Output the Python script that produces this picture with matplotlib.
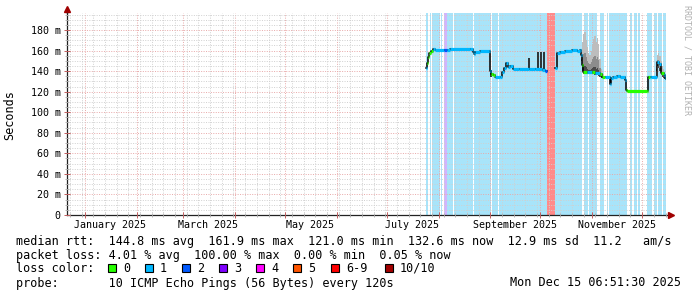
import numpy as np
import pandas as pd
import matplotlib
matplotlib.use('Agg')
import matplotlib.pyplot as plt
import matplotlib.dates as mdates
from matplotlib.ticker import MultipleLocator, FuncFormatter, NullFormatter
from matplotlib.patches import Rectangle

# --------- data (median rtt in ms, loss class index) ---------
rtt_times = ['2025-07-24 05:00', '2025-07-25 00:00', '2025-07-25 12:00', '2025-07-26 12:00',
             '2025-07-27 12:00', '2025-07-28 12:00', '2025-07-30 00:00', '2025-08-04 00:00',
             '2025-08-05 19:00', '2025-08-07 22:00', '2025-08-20 00:00', '2025-08-21 10:00',
             '2025-08-22 00:00', '2025-08-23 00:00', '2025-08-26 00:00', '2025-08-31 00:00',
             '2025-09-01 00:00', '2025-09-01 12:00', '2025-09-02 12:00', '2025-09-03 12:00',
             '2025-09-07 00:00', '2025-09-08 00:00', '2025-09-09 00:00', '2025-09-10 10:00',
             '2025-09-11 12:00', '2025-09-13 00:00', '2025-09-14 12:00', '2025-09-18 00:00',
             '2025-09-24 00:00', '2025-09-28 00:00', '2025-10-02 00:00', '2025-10-04 00:00',
             '2025-10-04 19:00', '2025-10-09 19:00', '2025-10-10 19:00', '2025-10-12 19:00',
             '2025-10-16 00:00', '2025-10-20 00:00', '2025-10-23 00:00', '2025-10-24 19:00',
             '2025-10-25 05:00', '2025-10-26 00:00', '2025-10-26 14:00', '2025-10-29 00:00',
             '2025-11-01 00:00', '2025-11-03 00:00', '2025-11-05 19:00', '2025-11-07 00:00',
             '2025-11-09 00:00', '2025-11-12 00:00', '2025-11-12 12:00', '2025-11-13 14:00',
             '2025-11-16 00:00', '2025-11-18 00:00', '2025-11-20 19:00', '2025-11-21 12:00',
             '2025-11-22 00:00', '2025-12-04 00:00', '2025-12-04 10:00', '2025-12-05 12:00',
             '2025-12-06 12:00', '2025-12-09 19:00', '2025-12-10 19:00', '2025-12-12 10:00',
             '2025-12-13 19:00', '2025-12-14 19:00', '2025-12-15 06:51']
rtt_ms = [142.7, 148.0, 154.0, 158.0, 159.6, 161.5, 160.5, 160.5,
          160.5, 161.5, 161.5, 158.5, 156.5, 159.0, 159.6, 159.6,
          140.0, 137.5, 136.0, 134.6, 134.6, 139.5, 143.0, 147.6,
          143.7, 145.0, 142.0, 141.8, 142.0, 141.8, 141.5, 140.5,
          np.nan, 142.7, 157.3, 159.0, 159.5, 160.5, 160.0, 160.5,
          155.7, 146.0, 139.5, 139.0, 139.5, 138.5, 137.5, 134.6,
          134.6, 127.0, 133.5, 134.0, 135.5, 134.0, 131.0, 122.0,
          121.0, 121.0, 134.6, 134.0, 134.6, 149.2, 147.0, 137.8,
          136.0, 133.0, 132.6]
rtt_loss = [1, 0, 0, 0, 0, 1, 1, 2,
            1, 1, 1, 1, 1, 1, 1, 1,
            1, 0, 0, 1, 1, 1, 1, 1,
            1, 1, 1, 1, 1, 1, 1, 2,
            7, 1, 1, 1, 1, 1, 1, 1,
            1, 0, 0, 1, 0, 1, 0, 0,
            1, 1, 1, 1, 1, 1, 1, 0,
            0, 0, 0, 1, 1, 1, 1, 0,
            1, 1, 1]

# packet loss background: edges and loss class of each span (None = no loss)
band_edges = ['2025-07-24 05:00', '2025-07-25 10:00', '2025-07-26 22:00', '2025-07-27 12:00',
              '2025-07-28 02:00', '2025-08-01 14:00', '2025-08-02 05:00', '2025-08-03 02:00',
              '2025-08-04 00:00', '2025-08-05 19:00', '2025-08-09 17:00', '2025-08-10 02:00',
              '2025-08-21 10:00', '2025-08-22 00:00', '2025-09-01 10:00', '2025-09-01 22:00',
              '2025-09-05 07:00', '2025-09-05 22:00', '2025-10-04 19:00', '2025-10-09 19:00',
              '2025-10-26 00:00', '2025-10-26 22:00', '2025-10-29 14:00', '2025-10-30 00:00',
              '2025-11-04 00:00', '2025-11-05 19:00', '2025-11-08 05:00', '2025-11-10 00:00',
              '2025-11-10 14:00', '2025-11-11 05:00', '2025-11-22 00:00', '2025-11-23 19:00',
              '2025-11-25 00:00', '2025-11-25 22:00', '2025-11-27 17:00', '2025-11-28 07:00',
              '2025-11-29 19:00', '2025-12-04 00:00', '2025-12-07 00:00', '2025-12-07 22:00',
              '2025-12-09 17:00', '2025-12-10 07:00', '2025-12-13 00:00', '2025-12-13 14:00',
              '2025-12-15 06:51']
band_loss = [1, None, 1, None, 1, None, 1, None,
             3, 1, None, 1, None, 1, None, 1,
             None, 1, 7, 1, None, 1, None, 1,
             None, 1, None, 1, None, 1, None, 1,
             None, 1, None, 1, None, 1, None, 1,
             None, 1, None, 1]

# dark ping spikes
spike_times = ['2025-09-01 12:00', '2025-09-23 22:00', '2025-09-29 19:00',
               '2025-10-01 05:00', '2025-10-03 10:00']
spike_low = [134.5, 141.5, 141.5, 141.5, 141.5]
spike_high = [141.0, 152.4, 159.0, 159.0, 159.0]

# smoke (spread of individual pings)
smoke_times = ['2025-10-25 12:00', '2025-10-26 06:00', '2025-10-27 00:00', '2025-10-27 18:00',
               '2025-10-28 12:00', '2025-10-29 06:00', '2025-10-30 00:00', '2025-10-30 18:00',
               '2025-10-31 12:00', '2025-11-01 06:00', '2025-11-02 00:00', '2025-11-02 18:00',
               '2025-11-03 12:00', '2025-11-04 06:00', '2025-11-05 00:00', '2025-11-05 18:00',
               '2025-11-06 12:00', '2025-11-07 06:00', '2025-11-08 00:00', '2025-11-20 00:00',
               '2025-12-09 12:00', '2025-12-10 06:00', '2025-12-11 00:00', '2025-12-11 18:00',
               '2025-12-12 12:00', '2025-12-13 06:00', '2025-12-14 00:00', '2025-12-14 18:00']
smoke_high = [158, 168, 176, 178, 170, 163, 158, 156, 160, 166, 171, 174, 168, 172,
              166, 152, 142, 138, 137, np.nan, 149, 156, 158, 155, 150, 145, 142, 138]
smoke_low = [150, 140, 137, 137, 137, 137, 137, 137, 137, 137, 137, 136, 136, 136,
             135, 134, 133, 133, 133, np.nan, 140, 145, 143, 140, 136, 134, 133, 132]

month_labels = ['January 2025', 'March 2025', 'May 2025', 'July 2025',
                'September 2025', 'November 2025']
month_label_times = ['2025-01-16', '2025-03-16', '2025-05-16', '2025-07-16',
                     '2025-09-16', '2025-11-16']

loss_names = ['0', '1', '2', '3', '4', '5', '6-9', '10/10']
loss_colors = ['#26ff00', '#00b8ff', '#0059ff', '#7e00ff', '#ff00ff', '#ff5500', '#ff0000', '#a10000']
band_colors = {1: '#a8e4fa', 3: '#d2b4ff', 7: '#ff8a8a'}

stats_line = 'median rtt:  144.8 ms avg  161.9 ms max  121.0 ms min  132.6 ms now  12.9 ms sd  11.2   am/s'
loss_line = 'packet loss: 4.01 % avg  100.00 % max  0.00 % min  0.05 % now'
probe_line = 'probe:       10 ICMP Echo Pings (56 Bytes) every 120s'
stamp = 'Mon Dec 15 06:51:30 2025'

# --------- figure ---------
W, H = 697, 297
MONO = 'DejaVu Sans Mono'


def fx(px):
    return px / W


def fy(py):
    return 1 - py / H


fig = plt.figure(figsize=(W / 100, H / 100), dpi=100)
ax = fig.add_axes([fx(67), fy(215), (666 - 67) / W, (215 - 13) / H])

t_start = pd.Timestamp('2024-12-21 05:00')
t_end = pd.Timestamp('2025-12-15 06:51:30')
ax.set_xlim(t_start, t_end)
ax.set_ylim(0, 196.5)

# loss background
edges = pd.to_datetime(band_edges)
for i, cls in enumerate(band_loss):
    if cls is None:
        continue
    ax.axvspan(edges[i], edges[i + 1], color=band_colors[cls], lw=0, zorder=1)

# smoke
st = pd.to_datetime(smoke_times)
lo = np.array(smoke_low, dtype=float)
hi = np.array(smoke_high, dtype=float)
ax.fill_between(st, lo, hi, step='mid', color='#bdbdbd', lw=0, zorder=3)
ax.fill_between(st, lo, lo + 0.5 * (hi - lo), step='mid', color='#8c8c8c', lw=0, zorder=3.1)
ax.fill_between(st, lo, lo + 0.2 * (hi - lo), step='mid', color='#4a4a4a', lw=0, zorder=3.2)

# spikes
ax.vlines(pd.to_datetime(spike_times), spike_low, spike_high, color='#151515', lw=1.2, zorder=4)

# median rtt
rt = pd.to_datetime(rtt_times)
rv = np.array(rtt_ms, dtype=float)
ax.plot(rt, rv, drawstyle='steps-post', color='black', lw=1.1, zorder=4.5)
seg_cols = [loss_colors[c] for c in rtt_loss[:-1]]
ax.hlines(rv[:-1], rt[:-1], rt[1:], colors=seg_cols, lw=2.3, zorder=5)

# grid and ticks
ax.xaxis.set_major_locator(mdates.MonthLocator())
ax.xaxis.set_minor_locator(mdates.WeekdayLocator(byweekday=mdates.MO))
ax.xaxis.set_major_formatter(NullFormatter())
ax.yaxis.set_major_locator(MultipleLocator(20))
ax.yaxis.set_minor_locator(MultipleLocator(5))
ax.yaxis.set_major_formatter(FuncFormatter(lambda v, p: '0' if v == 0 else '%d m' % v))
ax.set_axisbelow(False)
ax.grid(which='major', color='#e8a8a8', linestyle=(0, (1, 1.5)), linewidth=0.7)
ax.grid(which='minor', color='#d0d0d0', linestyle=(0, (1, 1.5)), linewidth=0.7)
ax.tick_params(which='major', direction='inout', length=4, width=0.7, color='#c06060', pad=2.5,
               labelsize=7.2)
ax.tick_params(which='minor', direction='inout', length=3, width=0.6, color='#aaaaaa')
for lab in ax.get_yticklabels():
    lab.set_fontfamily(MONO)

for s in ['top', 'right']:
    ax.spines[s].set_visible(False)
for s in ['left', 'bottom']:
    ax.spines[s].set_color('#222222')
    ax.spines[s].set_linewidth(0.9)

for t, lab in zip(pd.to_datetime(month_label_times), month_labels):
    ax.text(t, -10 / 202, lab, transform=ax.get_xaxis_transform(), ha='center', va='center',
            fontsize=7.2, family=MONO)

# axis arrows
ax.plot([0, 0], [1, 1.02], transform=ax.transAxes, clip_on=False, color='#222222', lw=0.9)
ax.plot([1, 1.006], [0, 0], transform=ax.transAxes, clip_on=False, color='#222222', lw=0.9)
ax.plot([0], [1.02], marker='^', ms=4, color='#a00000', transform=ax.transAxes, clip_on=False)
ax.plot([1.008], [0], marker='>', ms=4, color='#a00000', transform=ax.transAxes, clip_on=False)

fig.text(fx(10), fy(115), 'Seconds', rotation=90, ha='center', va='center', fontsize=8.5, family=MONO)
fig.text(fx(687), fy(5), 'RRDTOOL / TOBI OETIKER', rotation=270, ha='center', va='top',
         fontsize=6, family=MONO, color='#b0b0b0')

# legend block
fig.text(fx(16), fy(241), stats_line, ha='left', va='center', fontsize=8.5, family=MONO)
fig.text(fx(16), fy(255), loss_line, ha='left', va='center', fontsize=8.5, family=MONO)
fig.text(fx(16), fy(268), 'loss color:', ha='left', va='center', fontsize=8.5, family=MONO)
fig.text(fx(16), fy(283), probe_line, ha='left', va='center', fontsize=8.5, family=MONO)
fig.text(fx(681), fy(283), stamp, ha='right', va='center', fontsize=8.5, family=MONO)

box_x = [108, 145, 182, 219, 256, 293, 331, 385]
for bx, name, col in zip(box_x, loss_names, loss_colors):
    fig.add_artist(Rectangle((fx(bx), fy(272)), 8 / W, 8 / H, transform=fig.transFigure,
                             facecolor=col, edgecolor='black', lw=0.8))
    fig.text(fx(bx + 15), fy(268), name, ha='left', va='center', fontsize=8.5, family=MONO)

fig.savefig('out.png', dpi=100)
